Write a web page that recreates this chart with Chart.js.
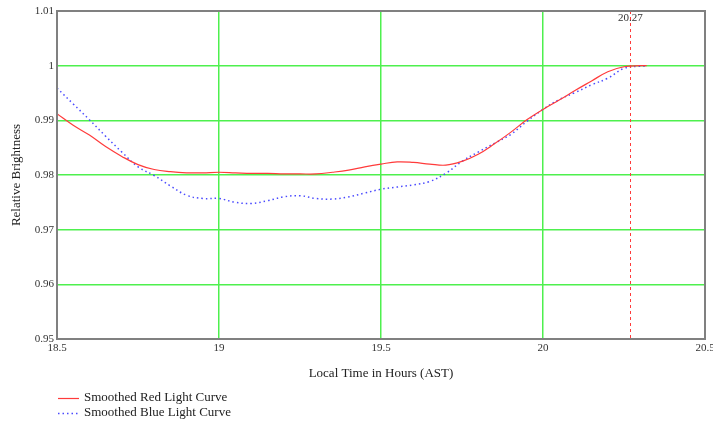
<!DOCTYPE html>
<html>
<head>
<meta charset="utf-8">
<script src="https://cdn.jsdelivr.net/npm/chart.js@4/dist/chart.umd.min.js"></script>
<style>
  html, body { margin: 0; padding: 0; background: #fff; }
  #wrap { width: 713px; height: 421px; position: relative; }
</style>
</head>
<body>
<div id="wrap"><canvas id="chart"></canvas></div>
<script>
// time in hours (AST)
const times = [18.50, 18.55, 18.60, 18.65, 18.70, 18.75, 18.80, 18.85, 18.90, 18.95,
               19.00, 19.05, 19.10, 19.15, 19.20, 19.25, 19.30, 19.35, 19.40, 19.45,
               19.50, 19.55, 19.60, 19.65, 19.70, 19.75, 19.80, 19.85, 19.90, 19.95,
               20.00, 20.05, 20.10, 20.15, 20.20, 20.25, 20.30, 20.32];
const redCurve = [0.9912, 0.9891, 0.9873, 0.9852, 0.9834, 0.9819, 0.9810, 0.9806, 0.9804, 0.9804,
                  0.9805, 0.9804, 0.9803, 0.9803, 0.9802, 0.9802, 0.9802, 0.9805, 0.9809, 0.9815,
                  0.9820, 0.9824, 0.9823, 0.9820, 0.9818, 0.9825, 0.9838, 0.9857, 0.9878, 0.9901,
                  0.9920, 0.9937, 0.9955, 0.9972, 0.9989, 0.9998, 1.0000, 1.0000];
const blueCurve = [0.9959, 0.9930, 0.9901, 0.9871, 0.9842, 0.9815, 0.9799, 0.9780, 0.9763, 0.9757,
                   0.9757, 0.9750, 0.9748, 0.9753, 0.9760, 0.9762, 0.9757, 0.9756, 0.9760, 0.9767,
                   0.9774, 0.9778, 0.9782, 0.9788, 0.9803, 0.9825, 0.9842, 0.9858, 0.9874, 0.9898,
                   0.9920, 0.9938, 0.9951, 0.9965, 0.9977, 0.9995, 0.9999, 0.9999];
const markerTime = 20.27;

const seriesLabels = ['Smoothed Red Light Curve', 'Smoothed Blue Light Curve'];
const RED  = '#ff3b3b';
const BLUE = '#4a4aff';
const GRID = '#4ef04e';
const FONT = '"Liberation Serif", "Times New Roman", serif';

const pts = ys => times.map((t, i) => ({ x: t, y: ys[i] }));

// frame, marker line and the two-row legend
const extras = {
  id: 'extras',
  afterDatasetsDraw(chart) {
    const { ctx, chartArea: a, scales: { x } } = chart;
    const mx = x.getPixelForValue(markerTime);
    ctx.save();
    ctx.strokeStyle = RED;
    ctx.lineWidth = 1;
    ctx.setLineDash([3, 3]);
    ctx.beginPath();
    ctx.moveTo(Math.round(mx) + 0.5, a.top);
    ctx.lineTo(Math.round(mx) + 0.5, a.bottom);
    ctx.stroke();
    ctx.setLineDash([]);
    ctx.fillStyle = '#333';
    ctx.font = '11px ' + FONT;
    ctx.textAlign = 'center';
    ctx.textBaseline = 'middle';
    ctx.fillText(String(markerTime), mx, a.top + 7);

    ctx.strokeStyle = '#808080';
    ctx.lineWidth = 2;
    ctx.strokeRect(a.left, a.top, a.right - a.left, a.bottom - a.top);

    const styles = [{ c: RED, dash: [], w: 1.2 }, { c: BLUE, dash: [1.5, 3], w: 1.5 }];
    ctx.font = '13px ' + FONT;
    ctx.textAlign = 'left';
    seriesLabels.forEach((lab, i) => {
      const y = 398 + i * 15;
      ctx.strokeStyle = styles[i].c;
      ctx.lineWidth = styles[i].w;
      ctx.setLineDash(styles[i].dash);
      ctx.beginPath();
      ctx.moveTo(58, y + 0.5);
      ctx.lineTo(79, y + 0.5);
      ctx.stroke();
      ctx.setLineDash([]);
      ctx.fillStyle = '#222';
      ctx.fillText(lab, 84, y);
    });
    ctx.restore();
  }
};

const edgeless = lo => ctx => {
  const v = ctx.tick && ctx.tick.value;
  return (v === undefined || Math.abs(v - lo[0]) < 1e-6 || Math.abs(v - lo[1]) < 1e-6) ? 'rgba(0,0,0,0)' : GRID;
};

new Chart(document.getElementById('chart'), {
  type: 'line',
  data: {
    datasets: [
      { label: seriesLabels[0], data: pts(redCurve), borderColor: RED, borderWidth: 1.2,
        pointRadius: 0, tension: 0.4, fill: false },
      { label: seriesLabels[1], data: pts(blueCurve), borderColor: BLUE, borderWidth: 1.5,
        borderDash: [1.5, 3], pointRadius: 0, tension: 0.4, fill: false },
    ],
  },
  options: {
    responsive: true, maintainAspectRatio: false, animation: false,
    layout: { padding: { top: 11, right: 8, bottom: 0, left: 0 } },
    plugins: { legend: { display: false }, tooltip: { enabled: false } },
    scales: {
      x: {
        type: 'linear', min: 18.5, max: 20.5,
        afterFit: s => { s.height = 82; s.paddingRight = 0; s.paddingLeft = 0; },
        grid: { color: edgeless([18.5, 20.5]), lineWidth: 1.5, drawTicks: false },
        border: { display: false },
        ticks: { stepSize: 0.5, padding: 3, color: '#333', font: { family: FONT, size: 11 },
                 maxRotation: 0, callback: v => String(Number(v.toFixed(2))) },
        title: { display: true, text: 'Local Time in Hours (AST)', color: '#222',
                 font: { family: FONT, size: 13 }, padding: { bottom: 40 } },
      },
      y: {
        min: 0.95, max: 1.01,
        afterFit: s => { s.width = 57; s.paddingTop = 0; s.paddingBottom = 0; },
        grid: { color: edgeless([0.95, 1.01]), lineWidth: 1.5, drawTicks: false },
        border: { display: false },
        ticks: { stepSize: 0.01, padding: 3, color: '#333', font: { family: FONT, size: 11 },
                 callback: v => String(Number(v.toFixed(2))) },
        title: { display: true, text: 'Relative Brightness', color: '#222',
                 font: { family: FONT, size: 13 }, padding: { top: 9 } },
      },
    },
  },
  plugins: [extras],
});
</script>
</body>
</html>
